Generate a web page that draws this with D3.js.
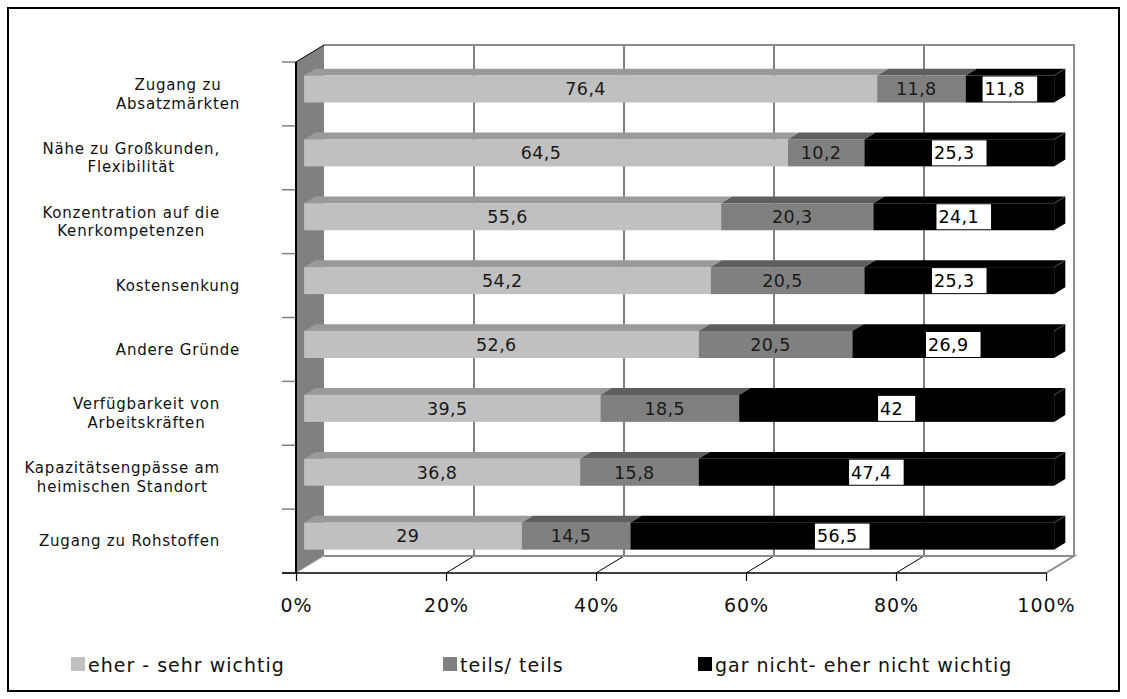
<!DOCTYPE html>
<html>
<head>
<meta charset="utf-8">
<script src="https://cdn.jsdelivr.net/npm/d3@7"></script>
<style>
  html, body { margin: 0; padding: 0; background: #fff; }
  svg { display: block; font-family: "DejaVu Sans", Verdana, sans-serif; }
</style>
</head>
<body>
<svg id="chart" width="1127" height="699"></svg>
<script>
// Reasons for relocation, shares of answers in percent
const categories = [
  "Zugang zu\nAbsatzmärkten",
  "Nähe zu Großkunden,\nFlexibilität",
  "Konzentration auf die\nKenrkompetenzen",
  "Kostensenkung",
  "Andere Gründe",
  "Verfügbarkeit von\nArbeitskräften",
  "Kapazitätsengpässe am\nheimischen Standort",
  "Zugang zu Rohstoffen"
];
const seriesNames = ["eher - sehr wichtig", "teils/ teils", "gar nicht- eher nicht wichtig"];
const sehrWichtig = [76.4, 64.5, 55.6, 54.2, 52.6, 39.5, 36.8, 29];
const teilsTeils  = [11.8, 10.2, 20.3, 20.5, 20.5, 18.5, 15.8, 14.5];
const nichtWichtig = [11.8, 25.3, 24.1, 25.3, 26.9, 42, 47.4, 56.5];
const xTicks = [0, 20, 40, 60, 80, 100];

const svg = d3.select("#chart");
const W = 1127, H = 699;

// outer frame
svg.append("rect").attr("x", 8).attr("y", 8).attr("width", W - 16).attr("height", H - 16)
  .attr("fill", "#fff").attr("stroke", "#000").attr("stroke-width", 2);

// 3D geometry: front plane scales plus a depth offset
const x = d3.scaleLinear().domain([0, 100]).range([296, 1046]);
const y = d3.scaleBand().domain(d3.range(categories.length)).range([62, 573]).paddingInner(0).paddingOuter(0);
const DX = 28, DY = -17;           // full depth of the plot box
const z1 = 0.29, z2 = 0.69;         // bar front / back depth
const barH = 27;
const P = (v, yy, z) => [x(v) + z * DX, yy + z * DY];
const poly = pts => pts.map(p => p.join(",")).join(" ");

const y0 = y.range()[0], y1 = y.range()[1];
const xMin = x.domain()[0], xMax = x.domain()[1];

// back wall
svg.append("polygon")
  .attr("points", poly([P(xMin, y0, 1), P(xMax, y0, 1), P(xMax, y1, 1), P(xMin, y1, 1)]))
  .attr("fill", "#fff");
// gridlines on the back wall
svg.append("g").selectAll("line").data(xTicks.filter(t => t > xMin && t < xMax)).join("line")
  .attr("x1", d => P(d, y0, 1)[0]).attr("x2", d => P(d, y1, 1)[0])
  .attr("y1", P(0, y0, 1)[1]).attr("y2", P(0, y1, 1)[1])
  .attr("stroke", "#000").attr("stroke-width", 1);
// back wall border (top and right)
svg.append("polyline")
  .attr("points", poly([P(xMin, y0, 1), P(xMax, y0, 1), P(xMax, y1, 1)]))
  .attr("fill", "none").attr("stroke", "#8c8c8c").attr("stroke-width", 2);

// floor
svg.append("polygon")
  .attr("points", poly([P(xMin, y1, 0), P(xMax, y1, 0), P(xMax, y1, 1), P(xMin, y1, 1)]))
  .attr("fill", "#fff");
svg.append("g").selectAll("line").data(xTicks.filter(t => t > xMin && t < xMax)).join("line")
  .attr("x1", d => P(d, y1, 0)[0]).attr("y1", P(0, y1, 0)[1])
  .attr("x2", d => P(d, y1, 1)[0]).attr("y2", P(0, y1, 1)[1])
  .attr("stroke", "#000").attr("stroke-width", 1);
svg.append("polyline")
  .attr("points", poly([P(xMin, y1, 1), P(xMax, y1, 1), P(xMax, y1, 0)]))
  .attr("fill", "none").attr("stroke", "#8c8c8c").attr("stroke-width", 2);

// left side wall
svg.append("polygon")
  .attr("points", poly([P(xMin, y0, 0), P(xMin, y0, 1), P(xMin, y1, 1), P(xMin, y1, 0)]))
  .attr("fill", "#808080");
svg.append("line")
  .attr("x1", P(xMin, y0, 0)[0]).attr("y1", P(xMin, y0, 0)[1])
  .attr("x2", P(xMin, y0, 1)[0]).attr("y2", P(xMin, y0, 1)[1])
  .attr("stroke", "#000").attr("stroke-width", 1);
svg.append("line")
  .attr("x1", P(xMin, y1, 0)[0]).attr("y1", P(xMin, y1, 0)[1])
  .attr("x2", P(xMin, y1, 1)[0]).attr("y2", P(xMin, y1, 1)[1])
  .attr("stroke", "#bdbdbd").attr("stroke-width", 1);

// category axis: line and boundary ticks
const bounds = d3.range(categories.length + 1).map(i => y0 + i * y.step());
svg.append("g").selectAll("line").data(bounds).join("line")
  .attr("x1", x(0) - 14).attr("x2", x(0)).attr("y1", d => d).attr("y2", d => d)
  .attr("stroke", "#808080").attr("stroke-width", 1.5);
svg.append("line").attr("x1", x(0)).attr("x2", x(0)).attr("y1", y0).attr("y2", y1)
  .attr("stroke", "#000").attr("stroke-width", 2);

// value axis
const xAxis = svg.append("g").attr("transform", `translate(0,${y1})`)
  .call(d3.axisBottom(x).tickValues(xTicks).tickFormat(d => d + "%").tickSize(8).tickSizeOuter(0));
xAxis.select(".domain").attr("stroke", "#000").attr("stroke-width", 1.5).attr("d", `M${x(0) - 14},0H${x(100)}`);
xAxis.selectAll(".tick line").attr("stroke", "#000").attr("stroke-width", 1.2);
xAxis.selectAll(".tick text").attr("font-family", "DejaVu Sans, Verdana, sans-serif")
  .attr("font-size", 19).attr("letter-spacing", 1).attr("fill", "#111")
  .attr("y", 20).attr("dy", "1em");

// stacked bars
const rows = categories.map((c, i) => ({ i, a: sehrWichtig[i], b: teilsTeils[i], c: nichtWichtig[i] }));
const stack = d3.stack().keys(["a", "b", "c"]);
const layers = stack(rows);
const frontColor = ["#c0c0c0", "#808080", "#000000"];
const topColor = ["#9a9a9a", "#5e5e5e", "#000000"];

const barsG = svg.append("g");
rows.forEach((r, i) => {
  const yc = y(i) + y.bandwidth() / 2;
  const yt = yc - barH / 2, yb = yc + barH / 2;
  const g = barsG.append("g");
  layers.forEach((layer, k) => {
    const d = layer[i];
    // top face
    g.append("polygon")
      .attr("points", poly([P(d[0], yt, z1), P(d[1], yt, z1), P(d[1], yt, z2), P(d[0], yt, z2)]))
      .attr("fill", topColor[k]);
  });
  // right end face
  const end = layers[layers.length - 1][i][1];
  g.append("polygon")
    .attr("points", poly([P(end, yt, z1), P(end, yt, z2), P(end, yb, z2), P(end, yb, z1)]))
    .attr("fill", "#000");
  g.append("line")
    .attr("x1", P(end, yt, z1)[0]).attr("y1", P(end, yt, z1)[1])
    .attr("x2", P(end, yt, z2)[0]).attr("y2", P(end, yt, z2)[1])
    .attr("stroke", "#555").attr("stroke-width", 0.8);
  layers.forEach((layer, k) => {
    const d = layer[i];
    const p0 = P(d[0], yt, z1), p1 = P(d[1], yt, z1);
    g.append("rect").attr("x", p0[0]).attr("y", p0[1])
      .attr("width", p1[0] - p0[0]).attr("height", barH).attr("fill", frontColor[k]);
  });
  // value labels
  layers.forEach((layer, k) => {
    const d = layer[i];
    const v = d.data[layer.key];
    const p0 = P(d[0], yc, z1), p1 = P(d[1], yc, z1);
    const cx = (p0[0] + p1[0]) / 2, cy = p0[1];
    const txt = String(v).replace(".", ",");
    const t = g.append("text").attr("y", cy).attr("dy", "0.36em")
      .attr("font-size", 17.5).attr("letter-spacing", 0.4)
      .attr("fill", k === 2 ? "#000" : "#1a1a1a").text(txt);
    const tw = t.node().getComputedTextLength();
    const boxW = tw + 14, boxH = 25;
    const bx = cx - boxW / 2;
    t.attr("x", bx + 2);
    if (k === 2) {
      g.insert("rect", () => t.node())
        .attr("x", bx).attr("y", cy - boxH / 2).attr("width", boxW).attr("height", boxH)
        .attr("fill", "#fff");
    }
  });
});

// category labels
const labG = svg.append("g").attr("font-size", 15).attr("fill", "#111").attr("letter-spacing", 0.8);
categories.forEach((c, i) => {
  const lines = c.split("\n");
  const lh = 18.5;
  const yc = y(i) + y.bandwidth() / 2;
  const t = labG.append("text").attr("text-anchor", "middle");
  lines.forEach((ln, j) => {
    t.append("tspan").attr("x", 0).attr("y", yc + (j - (lines.length - 1) / 2) * lh).attr("dy", "0.36em").text(ln);
  });
  const w = d3.max(t.selectAll("tspan").nodes(), n => n.getComputedTextLength());
  const center = w <= 132 ? 178 : 220 - w / 2;
  t.selectAll("tspan").attr("x", center);
});

// legend
const legendX = [71, 443, 698];
const legend = svg.append("g");
seriesNames.forEach((name, k) => {
  legend.append("rect").attr("x", legendX[k]).attr("y", 657).attr("width", 14).attr("height", 14)
    .attr("fill", frontColor[k]);
  legend.append("text").attr("x", legendX[k] + 17).attr("y", 672)
    .attr("font-size", 19).attr("letter-spacing", 1).attr("fill", "#111").text(name);
});
</script>
</body>
</html>
